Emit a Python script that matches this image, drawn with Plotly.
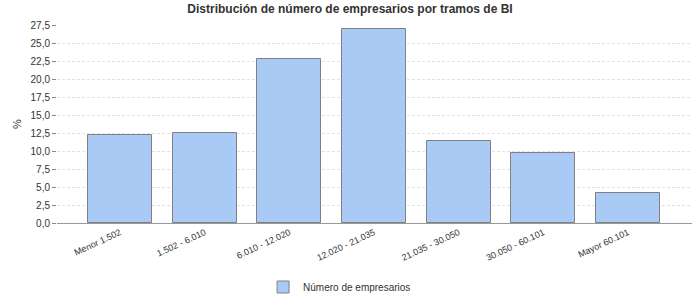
import plotly.graph_objects as go

categories = ["Menor 1.502", "1.502 - 6.010", "6.010 - 12.020", "12.020 - 21.035",
              "21.035 - 30.050", "30.050 - 60.101", "Mayor 60.101"]
values = [12.2, 12.55, 22.8, 26.9, 11.45, 9.7, 4.1]
series_name = "Número de empresarios"
title_text = "Distribución de número de empresarios por tramos de BI"

fig = go.Figure()
fig.add_trace(go.Bar(
    x=categories, y=values, name=series_name,
    marker=dict(color="#A8CAF5", line=dict(color="#808080", width=1)),
    width=0.755, showlegend=True,
))

fig.update_layout(
    width=700, height=300,
    margin=dict(l=57, r=8, t=25, b=77, autoexpand=False),
    paper_bgcolor="white", plot_bgcolor="white",
    separators=",.",
    font=dict(family="Liberation Sans, Arial, sans-serif", size=10, color="#333333"),
    title=dict(text="<b>" + title_text + "</b>", x=0.5, xanchor="center",
               y=1 - 9 / 300, yanchor="middle",
               font=dict(family="Liberation Sans, Arial, sans-serif", size=12, color="#333333")),
    showlegend=True,
    legend=dict(orientation="h", x=0.445, xanchor="center", y=-0.25, yanchor="top",
                font=dict(size=10, color="#333333"), bgcolor="rgba(0,0,0,0)",
                itemwidth=30),
    bargap=0,
)
fig.update_xaxes(
    range=[-0.744, 6.756], tickangle=-25, showgrid=False, automargin=False,
    showline=True, linecolor="#999999", linewidth=1, ticks="",
    tickfont=dict(size=9, color="#333333"),
)
fig.update_yaxes(
    range=[0, 27.5], dtick=2.5, tick0=0, tickformat=".1f", automargin=False,
    showgrid=True, gridcolor="#E2E2E2", griddash="3px,2px", gridwidth=1,
    ticks="outside", ticklen=4, tickcolor="#888888",
    showline=False, zeroline=False,
    title=dict(text="%", font=dict(size=11, color="#333333"), standoff=6),
    tickfont=dict(size=10, color="#333333"),
)

fig.write_html("out.html")
